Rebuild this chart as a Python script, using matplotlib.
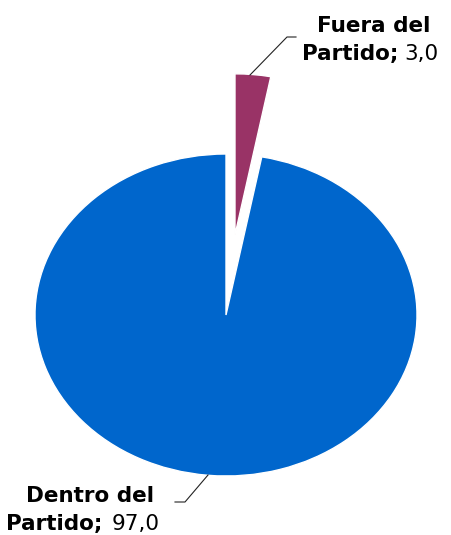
import matplotlib.pyplot as plt

labels = ["Fuera del\nPartido", "Dentro del\nPartido"]
values = [3.0, 97.0]
colors = ["#993366", "#0066CC"]
explode = [0.5, 0.0]

fig = plt.figure(figsize=(4.51, 5.35), dpi=100)
ax = fig.add_axes([0, 0, 1, 1])

# pie drawn flattened: x unit = 191 px, y unit = 161 px
ax.pie(values, colors=colors, startangle=90, counterclock=False,
       explode=explode, radius=1.0,
       wedgeprops=dict(edgecolor="white", linewidth=1.0))
ax.set_aspect("auto")
ax.set_xlim(-226 / 191, 225 / 191)
ax.set_ylim(-220 / 161, 315 / 161)
ax.axis("off")


def px(x, y):
    # pixel position in the picture -> data coords
    return (x - 226) / 191, (315 - y) / 161


fs = 15.5
bold = dict(fontsize=fs, fontweight="bold", family="DejaVu Sans", color="black")
norm = dict(fontsize=fs, family="DejaVu Sans", color="black")

# label of the small slice
top1, top2 = labels[0].split("\n")
ax.text(*px(374, 32), top1, ha="center", va="baseline", **bold)
ax.text(*px(398, 60), top2 + ";", ha="right", va="baseline", **bold)
ax.text(*px(404, 60), f"{values[0]:.1f}".replace(".", ","), ha="left", va="baseline", **norm)

# label of the big slice
bot1, bot2 = labels[1].split("\n")
ax.text(*px(90, 502), bot1, ha="center", va="baseline", **bold)
ax.text(*px(102, 530), bot2 + ";", ha="right", va="baseline", **bold)
ax.text(*px(112, 530), f"{values[1]:.1f}".replace(".", ","), ha="left", va="baseline", **norm)

# leader lines
for pts in ([(250, 75), (287, 37), (296, 37)], [(208, 475), (185, 502), (175, 502)]):
    xs, ys = zip(*[px(a, b) for a, b in pts])
    ax.plot(xs, ys, color="#222222", lw=0.8)

fig.savefig("out.png", dpi=100)
